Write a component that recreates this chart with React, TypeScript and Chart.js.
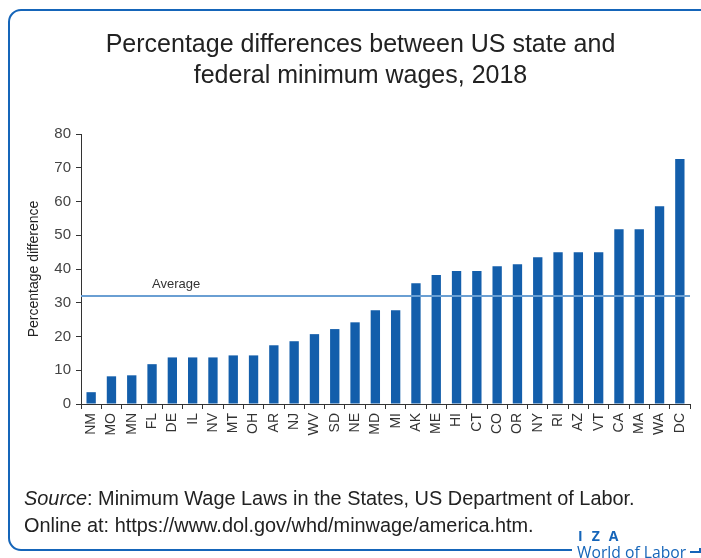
import React, { useEffect, useRef } from "react";
import { Chart, registerables } from "chart.js";

Chart.register(...registerables);

const STATES = [
  "NM", "MO", "MN", "FL", "DE", "IL", "NV", "MT", "OH", "AR", "NJ", "WV", "SD", "NE", "MD", "MI",
  "AK", "ME", "HI", "CT", "CO", "OR", "NY", "RI", "AZ", "VT", "CA", "MA", "WA", "DC",
];
const PCT_DIFF = [
  3.5, 8.2, 8.5, 11.8, 13.8, 13.8, 13.8, 14.4, 14.4, 17.4, 18.6, 20.7, 22.2, 24.2, 27.8, 27.8,
  35.8, 38.2, 39.4, 39.4, 40.8, 41.4, 43.5, 45.0, 45.0, 45.0, 51.8, 51.8, 58.6, 72.6,
];
const AVERAGE = 32;
const Y_TICKS = [0, 10, 20, 30, 40, 50, 60, 70, 80];

const TITLE_LINES = ["Percentage differences between US state and", "federal minimum wages, 2018"];
const Y_TITLE = "Percentage difference";
const AVERAGE_LABEL = "Average";

const BAR_COLOR = "#135eab";
const LINE_COLOR = "#6a9fd3";
const FRAME_COLOR = "#1565b9";
const NARROW = '"Liberation Sans Narrow", "Liberation Sans", Arial, sans-serif';
const SANS = '"Liberation Sans", Arial, sans-serif';

const averagePlugin = {
  id: "averageLine",
  afterDatasetsDraw(chart: any) {
    const { ctx, chartArea, scales } = chart;
    const y = scales.y.getPixelForValue(AVERAGE);
    ctx.save();
    ctx.strokeStyle = LINE_COLOR;
    ctx.lineWidth = 2;
    ctx.beginPath();
    ctx.moveTo(chartArea.left, y);
    ctx.lineTo(chartArea.right, y);
    ctx.stroke();
    ctx.fillStyle = "#333333";
    ctx.font = `13px ${SANS}`;
    ctx.textBaseline = "alphabetic";
    ctx.textAlign = "left";
    const x = scales.x.getPixelForValue(3);
    ctx.fillText(AVERAGE_LABEL, x, y - 8);
    ctx.restore();
  },
};

export default function App() {
  const ref = useRef<HTMLCanvasElement | null>(null);

  useEffect(() => {
    if (!ref.current) return;
    const chart = new Chart(ref.current, {
      type: "bar",
      data: {
        labels: STATES,
        datasets: [
          {
            data: PCT_DIFF,
            backgroundColor: BAR_COLOR,
            barPercentage: 0.46,
            categoryPercentage: 1,
          },
        ],
      },
      options: {
        animation: false,
        responsive: false,
        maintainAspectRatio: false,
        layout: { padding: { left: 22, top: 134, right: 11, bottom: 114 } },
        plugins: {
          legend: { display: false },
          tooltip: { enabled: false },
          title: { display: false },
        },
        scales: {
          x: {
            offset: true,
            grid: {
              display: true,
              drawOnChartArea: false,
              drawTicks: true,
              tickLength: 5,
              color: "#333333",
              offset: true,
            },
            border: { display: true, color: "#333333", width: 1 },
            ticks: {
              autoSkip: false,
              maxRotation: 90,
              minRotation: 90,
              color: "#333333",
              padding: 4,
              font: { family: SANS, size: 14 },
            },
            afterFit(scale: any) {
              scale.height = 40;
            },
          },
          y: {
            min: 0,
            max: 80,
            afterBuildTicks(scale: any) {
              scale.ticks = Y_TICKS.map((v) => ({ value: v }));
            },
            grid: {
              display: true,
              drawOnChartArea: false,
              drawTicks: true,
              tickLength: 5,
              color: "#333333",
            },
            border: { display: true, color: "#333333", width: 1 },
            ticks: {
              color: "#444444",
              padding: 5,
              font: { family: SANS, size: 15 },
            },
            title: {
              display: true,
              text: Y_TITLE,
              color: "#222222",
              padding: { top: 4, bottom: 0 },
              font: { family: NARROW, size: 14 },
            },
            afterFit(scale: any) {
              scale.width = 59;
            },
          },
        },
      },
      plugins: [averagePlugin],
    });
    return () => chart.destroy();
  }, []);

  return (
    <div style={{ position: "fixed", left: 0, top: 0, width: 701, height: 558, background: "#fff", overflow: "hidden" }}>
      <div
        style={{
          position: "absolute",
          left: 8,
          top: 9,
          width: 720,
          height: 542,
          border: `2px solid ${FRAME_COLOR}`,
          borderRadius: 13,
          boxSizing: "border-box",
        }}
      />
      <canvas ref={ref} width={701} height={558} style={{ position: "absolute", left: 0, top: 0, width: 701, height: 558 }} />
      <div
        style={{
          position: "absolute",
          left: 0,
          width: 721,
          top: 28,
          textAlign: "center",
          fontFamily: NARROW,
          fontSize: 25,
          lineHeight: "31px",
          color: "#222",
        }}
      >
        {TITLE_LINES.map((t) => (
          <div key={t}>{t}</div>
        ))}
      </div>
      <div
        style={{
          position: "absolute",
          left: 24,
          top: 485,
          fontFamily: NARROW,
          fontSize: 19.9,
          lineHeight: "27px",
          color: "#222",
          whiteSpace: "nowrap",
        }}
      >
        <div>
          <i>Source</i>: Minimum Wage Laws in the States, US Department of Labor.
        </div>
        <div>Online at: https://www.dol.gov/whd/minwage/america.htm.</div>
      </div>
      <div
        style={{
          position: "absolute",
          left: 572,
          top: 528,
          width: 129,
          height: 30,
          background: "#fff",
          color: FRAME_COLOR,
          fontFamily: '"Open Sans", sans-serif',
        }}
      >
        <div style={{ position: "absolute", left: 6, top: 0, fontSize: 14, fontWeight: 700, letterSpacing: 9, lineHeight: "16px" }}>IZA</div>
        <div style={{ position: "absolute", left: 5, top: 15, fontSize: 15.7, lineHeight: "18px" }}>World of Labor</div>
        <div style={{ position: "absolute", left: 118, top: 23, width: 11, height: 2, background: FRAME_COLOR }} />
        <div style={{ position: "absolute", left: 127, top: 20, width: 2, height: 5, background: FRAME_COLOR }} />
      </div>
    </div>
  );
}
